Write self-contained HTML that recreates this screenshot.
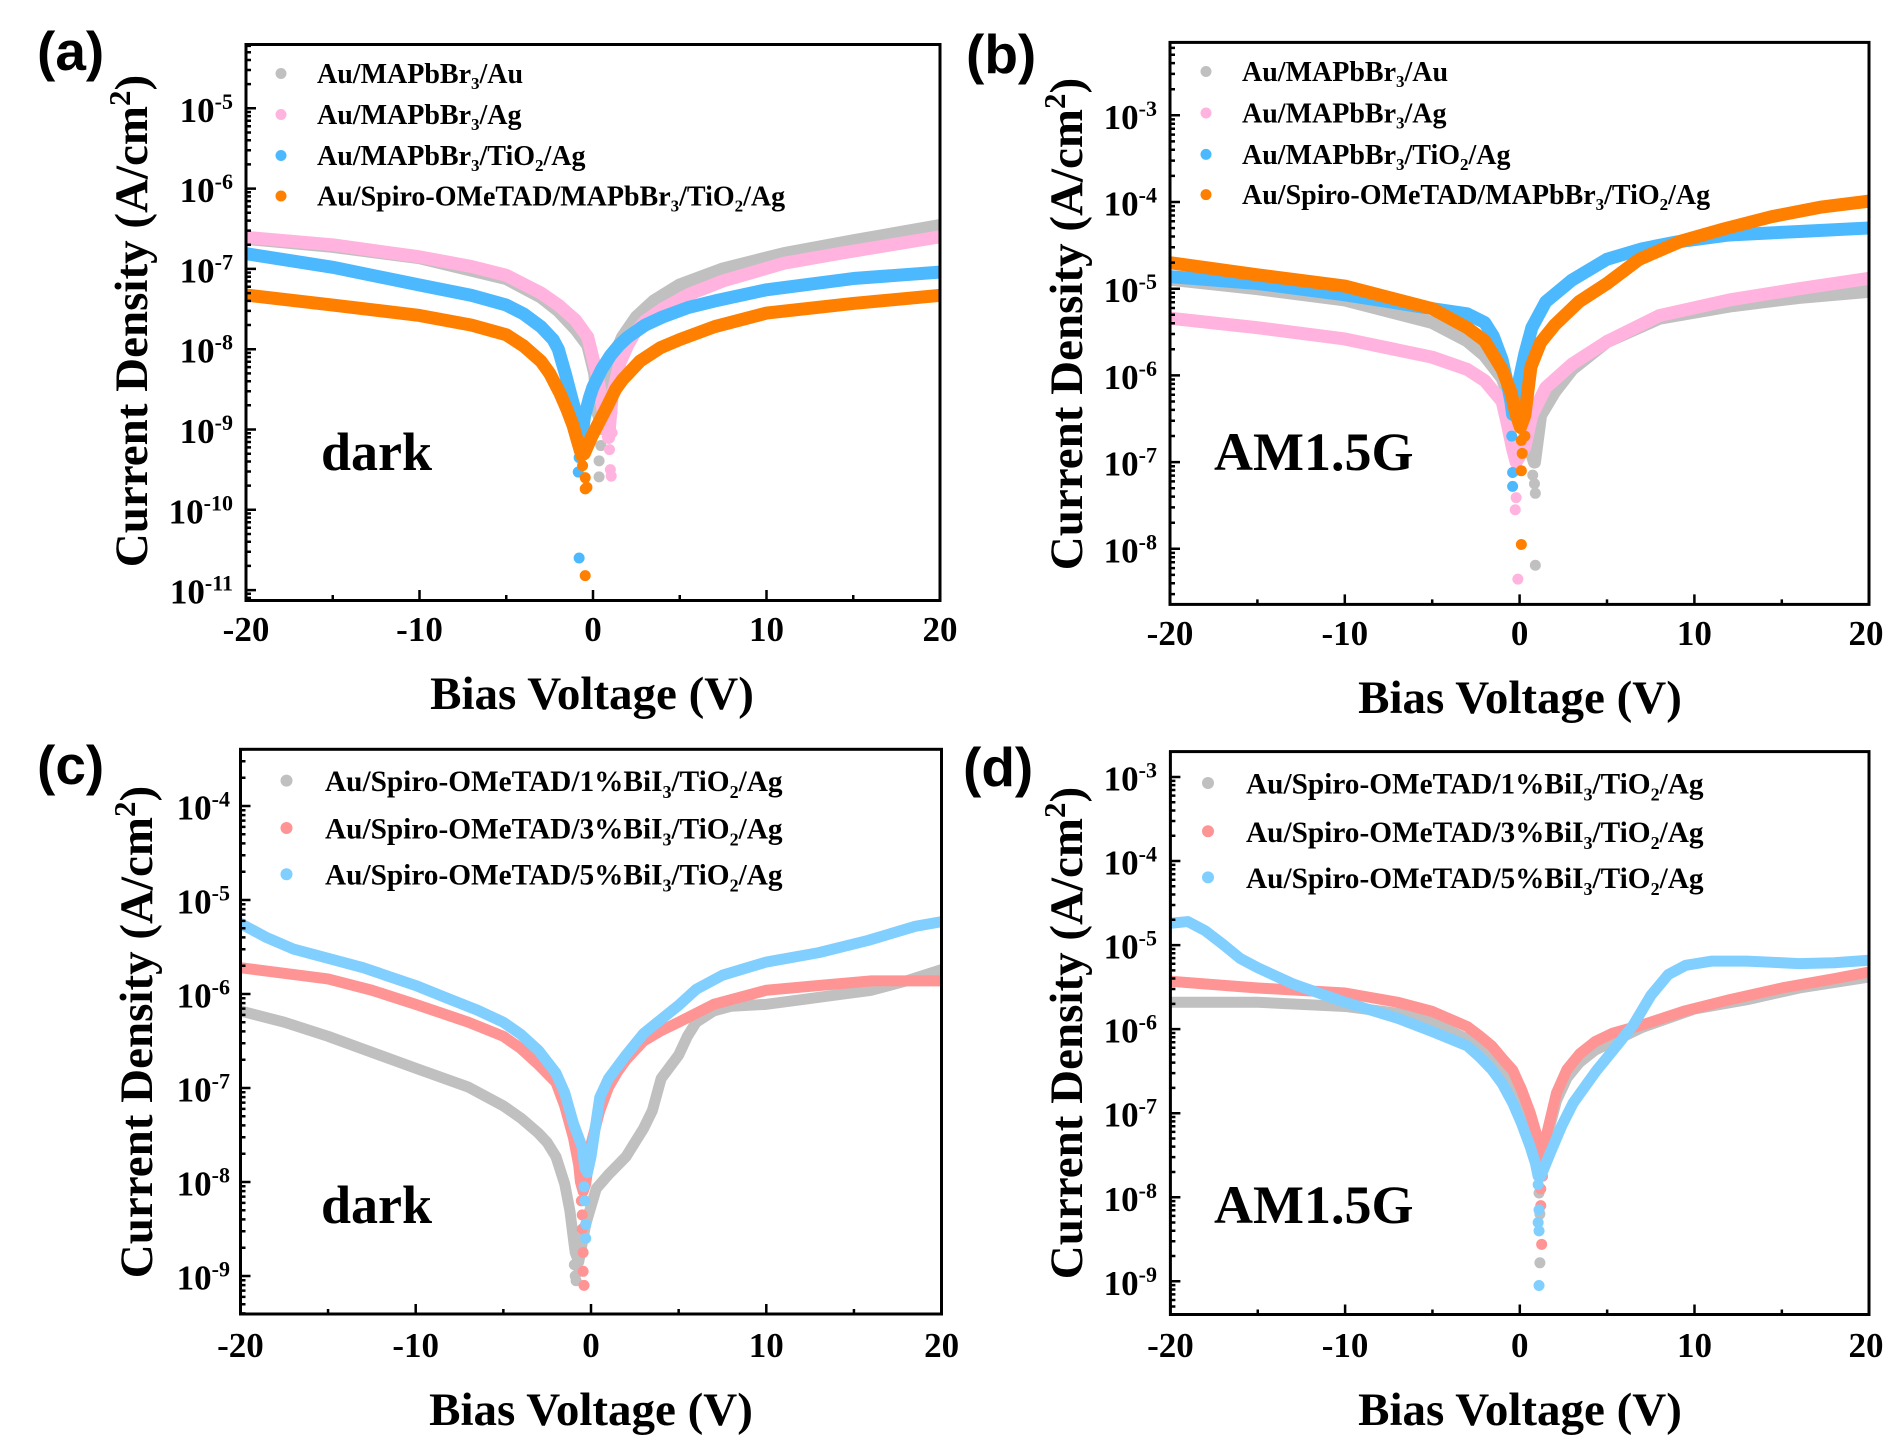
<!DOCTYPE html>
<html><head><meta charset="utf-8">
<style>
html,body{margin:0;padding:0;background:#fff;}
svg{display:block;}
.c{fill:none;stroke-linecap:round;stroke-linejoin:round;vector-effect:non-scaling-stroke;stroke-width:13;}
.d{fill:none;stroke-linecap:round;vector-effect:non-scaling-stroke;stroke-width:11;}
.c2{fill:none;stroke-linecap:round;stroke-linejoin:round;vector-effect:non-scaling-stroke;stroke-width:11;}
.d2{fill:none;stroke-linecap:round;vector-effect:non-scaling-stroke;stroke-width:11;}
.t{font-family:"Liberation Serif","Times New Roman",serif;font-weight:bold;fill:#000;}
.p{font-family:"Liberation Sans",Arial,sans-serif;font-weight:bold;fill:#000;}
.tk{fill:none;stroke:#000;stroke-width:2.5;}
.fr{fill:none;stroke:#000;stroke-width:3;}
</style></head>
<body>
<svg width="1890" height="1446" viewBox="0 0 1890 1446" xmlns="http://www.w3.org/2000/svg">
<defs>
<clipPath id="ca"><rect x="246" y="44.5" width="694" height="556"/></clipPath>
<clipPath id="cb"><rect x="1170" y="42.4" width="699" height="562"/></clipPath>
<clipPath id="cc"><rect x="240.5" y="749.3" width="701" height="564.7"/></clipPath>
<clipPath id="cd"><rect x="1170.4" y="751.6" width="698.6" height="562.9"/></clipPath>
</defs>
<rect width="1890" height="1446" fill="#fff"/>

<!-- ================= PANEL A ================= -->
<g clip-path="url(#ca)">
<g transform="matrix(17.35 0 0 -80.3 593 -293.2)">
<polyline class="c" stroke="#C0C0C0" points="-20,-6.62 -15,-6.72 -10,-6.86 -5,-7.12 -3,-7.35 -2,-7.52 -1,-7.75 -0.3,-7.95 0.1,-8.3 0.3,-8.8 0.45,-8.9 0.8,-8.45 1.2,-8.1 1.7,-7.85 2.5,-7.6 3.5,-7.4 5,-7.2 7.5,-7.0 11,-6.81 15,-6.65 20,-6.46"/>
<path class="d" stroke="#C0C0C0" d="M0.4 -9.0h0.001M0.35 -9.39h0.001M0.35 -9.59h0.001M0.45 -9.2h0.001"/>
<polyline class="c" stroke="#FFB3DE" points="-20,-6.607 -15,-6.7 -10,-6.85 -7,-6.97 -5,-7.08 -3,-7.3 -2,-7.45 -1,-7.64 -0.3,-7.85 0.3,-8.38 0.6,-8.79 0.9,-9.1 1.1,-8.59 1.55,-8.17 2,-7.95 2.4,-7.8 3,-7.65 4,-7.5 5.5,-7.32 7.5,-7.15 11,-6.93 14.4,-6.8 20,-6.6"/>
<path class="d" stroke="#FFB3DE" d="M1.1 -8.79h0.001M1.1 -9.04h0.001M1.0 -9.5h0.001M1.05 -9.58h0.001M0.95 -9.25h0.001"/>
<polyline class="c" stroke="#4CB9FF" points="-20,-6.81 -15,-6.98 -10,-7.2 -7,-7.33 -5,-7.45 -4,-7.56 -3,-7.72 -2.3,-7.88 -2,-8.0 -1.6,-8.3 -1.3,-8.55 -1.05,-8.75 -0.85,-9.0 -0.75,-9.25 -0.65,-9.1 -0.5,-8.85 -0.2,-8.6 0,-8.47 0.5,-8.25 1,-8.08 1.5,-7.95 2,-7.85 3,-7.7 4,-7.6 5.5,-7.48 7,-7.4 10,-7.26 15,-7.12 20,-7.04"/>
<path class="d" stroke="#4CB9FF" d="M-0.8 -9.35h0.001M-0.85 -9.53h0.001M-0.8 -10.6h0.001"/>
<polyline class="c" stroke="#FF7F00" points="-20,-7.325 -15,-7.45 -10,-7.58 -7,-7.7 -5,-7.82 -4,-7.96 -3,-8.15 -2.5,-8.3 -1.9,-8.55 -1.5,-8.75 -1.15,-8.95 -0.86,-9.17 -0.65,-9.32 -0.5,-9.3 -0.1,-9.1 0.2,-8.97 0.8,-8.72 1.3,-8.5 1.7,-8.38 2.7,-8.15 3.9,-7.98 5,-7.88 7,-7.72 10,-7.55 15,-7.43 20,-7.33"/>
<path class="d" stroke="#FF7F00" d="M-0.6 -9.45h0.001M-0.45 -9.6h0.001M-0.45 -9.74h0.001M-0.35 -9.72h0.001M-0.45 -10.82h0.001"/>
</g>
<path class="tk" d="M246 670.4h10m-10-24.2h5m-5-14.1h5m-5-10h5m-5-7.8h5m-5-6.3h5m-5-5.4h5m-5-4.7h5m-5-4.1h5m-5-3.7h10m-10-24.2h5m-5-14.1h5m-5-10h5m-5-7.8h5m-5-6.3h5m-5-5.4h5m-5-4.7h5m-5-4.1h5m-5-3.7h10m-10-24.2h5m-5-14.1h5m-5-10h5m-5-7.8h5m-5-6.3h5m-5-5.4h5m-5-4.7h5m-5-4.1h5m-5-3.7h10m-10-24.2h5m-5-14.1h5m-5-10h5m-5-7.8h5m-5-6.3h5m-5-5.4h5m-5-4.7h5m-5-4.1h5m-5-3.7h10m-10-24.2h5m-5-14.1h5m-5-10h5m-5-7.8h5m-5-6.3h5m-5-5.4h5m-5-4.7h5m-5-4.1h5m-5-3.7h10m-10-24.2h5m-5-14.1h5m-5-10h5m-5-7.8h5m-5-6.3h5m-5-5.4h5m-5-4.7h5m-5-4.1h5m-5-3.7h10m-10-24.2h5m-5-14.1h5m-5-10h5m-5-7.8h5m-5-6.3h5m-5-5.4h5m-5-4.7h5m-5-4.1h5m-5-3.7h10m-10-24.2h5m-5-14.1h5m-5-10h5m-5-7.8h5m-5-6.3h5m-5-5.4h5m-5-4.7h5m-5-4.1h5m-5-3.7h10"/>
<path class="tk" d="M246 600v-10M332.75 600v-5M419.5 600v-10M506.25 600v-5M593 600v-10M679.75 600v-5M766.5 600v-10M853.25 600v-5M940 600v-10"/>
</g>
<rect class="fr" x="246" y="44.5" width="694" height="556"/>

<g class="t" font-size="35" text-anchor="end">
<text x="233" y="121.8">10<tspan dy="-13" font-size="22">-5</tspan></text>
<text x="233" y="202.1">10<tspan dy="-13" font-size="22">-6</tspan></text>
<text x="233" y="282.4">10<tspan dy="-13" font-size="22">-7</tspan></text>
<text x="233" y="362.7">10<tspan dy="-13" font-size="22">-8</tspan></text>
<text x="233" y="443">10<tspan dy="-13" font-size="22">-9</tspan></text>
<text x="233" y="523.3">10<tspan dy="-13" font-size="22">-10</tspan></text>
<text x="233" y="603.6">10<tspan dy="-13" font-size="22">-11</tspan></text>
</g>
<g class="t" font-size="35" text-anchor="middle">
<text x="246" y="641">-20</text>
<text x="419.5" y="641">-10</text>
<text x="593" y="641">0</text>
<text x="766.5" y="641">10</text>
<text x="940" y="641">20</text>
</g>
<text class="t" font-size="47" text-anchor="middle" transform="translate(147,321) rotate(-90)">Current Density (A/cm<tspan dy="-17" font-size="31">2</tspan><tspan dy="17">)</tspan></text>
<text class="t" font-size="47" text-anchor="middle" x="592" y="709">Bias Voltage (V)</text>
<text class="p" font-size="55" x="37" y="70">(a)</text>
<text class="t" font-size="54" x="321" y="470">dark</text>
<circle cx="281" cy="73.5" r="5.5" fill="#C0C0C0"/>
<circle cx="281" cy="114.5" r="5.5" fill="#FFB3DE"/>
<circle cx="281" cy="155.5" r="5.5" fill="#4CB9FF"/>
<circle cx="281" cy="196" r="5.5" fill="#FF7F00"/>
<g class="t" font-size="28">
<text x="317" y="83">Au/MAPbBr<tspan font-size="17" dy="6">3</tspan><tspan dy="-6">/Au</tspan></text>
<text x="317" y="124">Au/MAPbBr<tspan font-size="17" dy="6">3</tspan><tspan dy="-6">/Ag</tspan></text>
<text x="317" y="165">Au/MAPbBr<tspan font-size="17" dy="6">3</tspan><tspan dy="-6">/TiO</tspan><tspan font-size="17" dy="6">2</tspan><tspan dy="-6">/Ag</tspan></text>
<text x="317" y="205.5">Au/Spiro-OMeTAD/MAPbBr<tspan font-size="17" dy="6">3</tspan><tspan dy="-6">/TiO</tspan><tspan font-size="17" dy="6">2</tspan><tspan dy="-6">/Ag</tspan></text>
</g>

<!-- ================= PANEL B ================= -->
<g clip-path="url(#cb)">
<g transform="matrix(17.48 0 0 -86.7 1519.6 -144.8)">
<polyline class="c" stroke="#C0C0C0" points="-20,-4.89 -15,-5.0 -10,-5.13 -5,-5.39 -3,-5.6 -2,-5.77 -1,-6.03 -0.5,-6.3 0.2,-6.6 0.6,-6.85 0.85,-7.0 1.2,-6.46 2,-6.19 3,-5.93 5,-5.61 8,-5.34 12,-5.2 16,-5.1 20,-5.03"/>
<path class="d" stroke="#C0C0C0" d="M0.75 -7.15h0.001M0.9 -7.36h0.001M0.85 -7.25h0.001M0.9 -8.19h0.001"/>
<polyline class="c" stroke="#FFB3DE" points="-20,-5.34 -15,-5.45 -10,-5.58 -5,-5.79 -3,-5.93 -2,-6.06 -1,-6.3 -0.7,-6.56 -0.4,-6.85 -0.2,-7.0 0.3,-6.83 0.7,-6.46 1.5,-6.14 3,-5.87 5,-5.61 8,-5.31 12,-5.13 16,-5.0 20,-4.88"/>
<path class="d" stroke="#FFB3DE" d="M-0.25 -7.1h0.001M-0.2 -7.41h0.001M-0.25 -7.55h0.001M-0.1 -8.35h0.001"/>
<polyline class="c" stroke="#4CB9FF" points="-20,-4.86 -15,-4.94 -10,-5.07 -5,-5.23 -3,-5.29 -2,-5.39 -1.5,-5.55 -1,-5.82 -0.7,-6.09 -0.5,-6.3 -0.4,-6.45 -0.3,-6.4 0,-6.03 0.3,-5.75 0.7,-5.45 1.5,-5.15 3,-4.9 5,-4.66 7,-4.54 9,-4.46 12,-4.38 16,-4.34 20,-4.3"/>
<path class="d" stroke="#4CB9FF" d="M-0.45 -6.7h0.001M-0.4 -7.12h0.001M-0.4 -7.28h0.001"/>
<polyline class="c" stroke="#FF7F00" points="-20,-4.7 -15,-4.84 -10,-4.97 -5,-5.23 -3,-5.45 -2,-5.6 -1,-5.93 -0.5,-6.19 -0.2,-6.45 0.05,-6.6 0.3,-6.46 0.65,-5.9 1.2,-5.62 2,-5.42 3.4,-5.15 5,-4.94 6.85,-4.66 9.26,-4.45 11.7,-4.31 14.4,-4.17 17.2,-4.06 20,-3.99"/>
<path class="d" stroke="#FF7F00" d="M0.1 -6.75h0.001M0.15 -6.9h0.001M0.1 -7.1h0.001M0.1 -7.95h0.001M0.3 -6.7h0.001"/>
</g>
<path class="tk" d="M1170 635.5h10m-10-26.1h5m-5-15.3h5m-5-10.8h5m-5-8.4h5m-5-6.8h5m-5-5.8h5m-5-5h5m-5-4.4h5m-5-4.1h10m-10-26.1h5m-5-15.3h5m-5-10.8h5m-5-8.4h5m-5-6.8h5m-5-5.8h5m-5-5h5m-5-4.4h5m-5-4.1h10m-10-26.1h5m-5-15.3h5m-5-10.8h5m-5-8.4h5m-5-6.8h5m-5-5.8h5m-5-5h5m-5-4.4h5m-5-4.1h10m-10-26.1h5m-5-15.3h5m-5-10.8h5m-5-8.4h5m-5-6.8h5m-5-5.8h5m-5-5h5m-5-4.4h5m-5-4.1h10m-10-26.1h5m-5-15.3h5m-5-10.8h5m-5-8.4h5m-5-6.8h5m-5-5.8h5m-5-5h5m-5-4.4h5m-5-4.1h10m-10-26.1h5m-5-15.3h5m-5-10.8h5m-5-8.4h5m-5-6.8h5m-5-5.8h5m-5-5h5m-5-4.4h5m-5-4.1h10m-10-26.1h5m-5-15.3h5m-5-10.8h5m-5-8.4h5m-5-6.8h5m-5-5.8h5m-5-5h5m-5-4.4h5m-5-4.1h10"/>
<path class="tk" d="M1170 604.4v-10M1257.4 604.4v-5M1344.8 604.4v-10M1432.2 604.4v-5M1519.6 604.4v-10M1607 604.4v-5M1694.4 604.4v-10M1781.8 604.4v-5M1869.2 604.4v-10"/>
</g>
<rect class="fr" x="1170" y="42.4" width="699" height="562"/>

<g class="t" font-size="35" text-anchor="end">
<text x="1157" y="128.8">10<tspan dy="-13" font-size="22">-3</tspan></text>
<text x="1157" y="215.5">10<tspan dy="-13" font-size="22">-4</tspan></text>
<text x="1157" y="302.2">10<tspan dy="-13" font-size="22">-5</tspan></text>
<text x="1157" y="388.9">10<tspan dy="-13" font-size="22">-6</tspan></text>
<text x="1157" y="475.6">10<tspan dy="-13" font-size="22">-7</tspan></text>
<text x="1157" y="562.3">10<tspan dy="-13" font-size="22">-8</tspan></text>
</g>
<g class="t" font-size="35" text-anchor="middle">
<text x="1170" y="645">-20</text>
<text x="1344.8" y="645">-10</text>
<text x="1519.6" y="645">0</text>
<text x="1694.4" y="645">10</text>
<text x="1866" y="645">20</text>
</g>
<text class="t" font-size="47" text-anchor="middle" transform="translate(1082,324) rotate(-90)">Current Density (A/cm<tspan dy="-17" font-size="31">2</tspan><tspan dy="17">)</tspan></text>
<text class="t" font-size="47" text-anchor="middle" x="1520" y="713">Bias Voltage (V)</text>
<text class="p" font-size="55" x="966" y="73">(b)</text>
<text class="t" font-size="54" x="1214" y="470">AM1.5G</text>
<circle cx="1206" cy="71.5" r="5.5" fill="#C0C0C0"/>
<circle cx="1206" cy="113" r="5.5" fill="#FFB3DE"/>
<circle cx="1206" cy="154.4" r="5.5" fill="#4CB9FF"/>
<circle cx="1206" cy="194.6" r="5.5" fill="#FF7F00"/>
<g class="t" font-size="28">
<text x="1242" y="81">Au/MAPbBr<tspan font-size="17" dy="6">3</tspan><tspan dy="-6">/Au</tspan></text>
<text x="1242" y="122.5">Au/MAPbBr<tspan font-size="17" dy="6">3</tspan><tspan dy="-6">/Ag</tspan></text>
<text x="1242" y="164">Au/MAPbBr<tspan font-size="17" dy="6">3</tspan><tspan dy="-6">/TiO</tspan><tspan font-size="17" dy="6">2</tspan><tspan dy="-6">/Ag</tspan></text>
<text x="1242" y="204">Au/Spiro-OMeTAD/MAPbBr<tspan font-size="17" dy="6">3</tspan><tspan dy="-6">/TiO</tspan><tspan font-size="17" dy="6">2</tspan><tspan dy="-6">/Ag</tspan></text>
</g>

<!-- ================= PANEL C ================= -->
<g clip-path="url(#cc)">
<g transform="matrix(17.53 0 0 -94 591 430)">
<polyline class="c2" stroke="#C0C0C0" points="-20,-6.18 -17.5,-6.3 -15,-6.45 -12.5,-6.62 -10,-6.79 -7,-6.99 -5,-7.19 -4,-7.32 -3,-7.48 -2.5,-7.58 -2,-7.73 -1.5,-8.02 -1.2,-8.31 -1,-8.61 -0.9,-8.75 -0.7,-8.85 -0.6,-8.75 -0.3,-8.45 0,-8.26 0.3,-8.07 1,-7.92 2,-7.73 3,-7.43 3.5,-7.24 4,-6.9 5,-6.65 5.5,-6.45 6,-6.3 7,-6.18 8,-6.13 10,-6.11 12,-6.06 14,-6.01 16,-5.96 18,-5.86 20,-5.74"/>
<path class="d2" stroke="#C0C0C0" d="M-0.95 -8.88h0.001M-0.9 -9.0h0.001M-0.85 -9.05h0.001M-0.7 -8.95h0.001"/>
<polyline class="c2" stroke="#FF9494" points="-20,-5.72 -15,-5.84 -12.5,-5.96 -10,-6.11 -7,-6.3 -5,-6.45 -4,-6.58 -3,-6.75 -2,-6.94 -1.5,-7.19 -1,-7.53 -0.7,-7.82 -0.6,-8.0 -0.45,-8.1 -0.3,-8.02 0,-7.6 0.5,-7.24 1,-6.99 1.5,-6.83 2,-6.7 3,-6.5 4,-6.39 5,-6.3 7,-6.11 10,-5.96 13,-5.91 16,-5.86 20,-5.86"/>
<path class="d2" stroke="#FF9494" d="M-0.55 -8.2h0.001M-0.5 -8.35h0.001M-0.5 -8.5h0.001M-0.45 -8.75h0.001M-0.45 -8.95h0.001M-0.4 -9.1h0.001"/>
<polyline class="c2" stroke="#80CFFF" points="-20,-5.25 -18.5,-5.4 -17,-5.52 -15,-5.62 -13,-5.72 -10,-5.91 -8,-6.06 -6.5,-6.17 -5,-6.3 -4,-6.43 -3,-6.6 -2,-6.84 -1.5,-7.05 -1,-7.38 -0.5,-7.63 -0.35,-7.85 -0.2,-7.9 0,-7.73 0.5,-7.1 1,-6.9 2,-6.65 3,-6.42 3.8,-6.3 5,-6.12 6,-5.95 7.5,-5.8 10,-5.66 13,-5.56 15.8,-5.43 18.5,-5.28 20,-5.23"/>
<path class="d2" stroke="#80CFFF" d="M-0.4 -8.05h0.001M-0.35 -8.2h0.001M-0.3 -8.45h0.001M-0.3 -8.6h0.001"/>
</g>
<path class="tk" d="M240.5 1370h10m-10-28.3h5m-5-16.5h5m-5-11.8h5m-5-9.1h5m-5-7.4h5m-5-6.3h5m-5-5.5h5m-5-4.8h5m-5-4.3h10m-10-28.3h5m-5-16.5h5m-5-11.8h5m-5-9.1h5m-5-7.4h5m-5-6.3h5m-5-5.5h5m-5-4.8h5m-5-4.3h10m-10-28.3h5m-5-16.5h5m-5-11.8h5m-5-9.1h5m-5-7.4h5m-5-6.3h5m-5-5.5h5m-5-4.8h5m-5-4.3h10m-10-28.3h5m-5-16.5h5m-5-11.8h5m-5-9.1h5m-5-7.4h5m-5-6.3h5m-5-5.5h5m-5-4.8h5m-5-4.3h10m-10-28.3h5m-5-16.5h5m-5-11.8h5m-5-9.1h5m-5-7.4h5m-5-6.3h5m-5-5.5h5m-5-4.8h5m-5-4.3h10m-10-28.3h5m-5-16.5h5m-5-11.8h5m-5-9.1h5m-5-7.4h5m-5-6.3h5m-5-5.5h5m-5-4.8h5m-5-4.3h10m-10-28.3h5m-5-16.5h5m-5-11.8h5m-5-9.1h5m-5-7.4h5m-5-6.3h5m-5-5.5h5m-5-4.8h5m-5-4.3h10"/>
<path class="tk" d="M240.4 1314v-10M328.05 1314v-5M415.7 1314v-10M503.35 1314v-5M591 1314v-10M678.65 1314v-5M766.3 1314v-10M853.95 1314v-5M941.6 1314v-10"/>
</g>
<rect class="fr" x="240.5" y="749.3" width="701" height="564.7"/>

<g class="t" font-size="35" text-anchor="end">
<text x="230" y="819.5">10<tspan dy="-13" font-size="22">-4</tspan></text>
<text x="230" y="913.5">10<tspan dy="-13" font-size="22">-5</tspan></text>
<text x="230" y="1007.5">10<tspan dy="-13" font-size="22">-6</tspan></text>
<text x="230" y="1101.5">10<tspan dy="-13" font-size="22">-7</tspan></text>
<text x="230" y="1195.5">10<tspan dy="-13" font-size="22">-8</tspan></text>
<text x="230" y="1289.5">10<tspan dy="-13" font-size="22">-9</tspan></text>
</g>
<g class="t" font-size="35" text-anchor="middle">
<text x="240.4" y="1357">-20</text>
<text x="415.7" y="1357">-10</text>
<text x="591" y="1357">0</text>
<text x="766.3" y="1357">10</text>
<text x="941.6" y="1357">20</text>
</g>
<text class="t" font-size="47" text-anchor="middle" transform="translate(152,1032) rotate(-90)">Current Density (A/cm<tspan dy="-17" font-size="31">2</tspan><tspan dy="17">)</tspan></text>
<text class="t" font-size="47" text-anchor="middle" x="591" y="1425">Bias Voltage (V)</text>
<text class="p" font-size="55" x="37" y="784">(c)</text>
<text class="t" font-size="54" x="321" y="1223">dark</text>
<circle cx="286.5" cy="780.6" r="6" fill="#C0C0C0"/>
<circle cx="286.5" cy="828" r="6" fill="#FF9494"/>
<circle cx="286.5" cy="874.2" r="6" fill="#80CFFF"/>
<g class="t" font-size="29.3">
<text x="325" y="791">Au/Spiro-OMeTAD/1%BiI<tspan font-size="18" dy="7">3</tspan><tspan dy="-7">/TiO</tspan><tspan font-size="18" dy="7">2</tspan><tspan dy="-7">/Ag</tspan></text>
<text x="325" y="838.5">Au/Spiro-OMeTAD/3%BiI<tspan font-size="18" dy="7">3</tspan><tspan dy="-7">/TiO</tspan><tspan font-size="18" dy="7">2</tspan><tspan dy="-7">/Ag</tspan></text>
<text x="325" y="884.7">Au/Spiro-OMeTAD/5%BiI<tspan font-size="18" dy="7">3</tspan><tspan dy="-7">/TiO</tspan><tspan font-size="18" dy="7">2</tspan><tspan dy="-7">/Ag</tspan></text>
</g>

<!-- ================= PANEL D ================= -->
<g clip-path="url(#cd)">
<g transform="matrix(17.47 0 0 -84.05 1519.8 524.85)">
<polyline class="c2" stroke="#C0C0C0" points="-20,-5.68 -15,-5.68 -10,-5.73 -7,-5.81 -5,-5.92 -3,-6.12 -2,-6.25 -1,-6.45 0,-6.8 0.6,-7.1 0.95,-7.4 1.1,-7.6 1.3,-7.5 1.6,-7.25 2.1,-6.85 2.7,-6.58 3.4,-6.4 4.3,-6.25 5.3,-6.15 7,-5.98 10,-5.76 13,-5.65 16,-5.51 20,-5.38"/>
<path class="d2" stroke="#C0C0C0" d="M1.1 -7.75h0.001M1.1 -7.95h0.001M1.15 -8.2h0.001M1.15 -8.78h0.001"/>
<polyline class="c2" stroke="#FF9494" points="-20,-5.43 -15,-5.51 -10,-5.57 -7,-5.68 -5,-5.79 -3,-5.97 -2.3,-6.08 -1.6,-6.2 -1,-6.35 -0.4,-6.49 0.1,-6.72 0.6,-7.0 1.05,-7.32 1.2,-7.5 1.4,-7.5 1.55,-7.24 2.1,-6.76 2.7,-6.48 3.45,-6.29 4.3,-6.15 5.3,-6.05 7,-5.95 9.5,-5.78 12,-5.65 15,-5.51 18,-5.4 20,-5.32"/>
<path class="d2" stroke="#FF9494" d="M1.15 -7.6h0.001M1.2 -7.9h0.001M1.2 -8.1h0.001M1.25 -8.56h0.001M1.3 -7.75h0.001"/>
<polyline class="c2" stroke="#80CFFF" points="-20,-4.74 -19,-4.72 -18,-4.83 -17,-4.99 -16,-5.16 -15,-5.27 -13,-5.46 -10,-5.68 -7,-5.87 -5,-6.03 -3,-6.2 -2.3,-6.33 -1.6,-6.48 -1,-6.65 -0.4,-6.88 0.1,-7.12 0.6,-7.4 0.9,-7.6 1.05,-7.75 1.2,-7.75 1.75,-7.47 2.4,-7.15 3.05,-6.88 4.4,-6.49 5.5,-6.21 6.5,-5.95 7.5,-5.6 8.5,-5.35 9.5,-5.24 11,-5.19 13,-5.19 16,-5.22 18,-5.21 20,-5.18"/>
<path class="d2" stroke="#80CFFF" d="M1.05 -7.85h0.001M1.1 -8.15h0.001M1.05 -8.3h0.001M1.1 -8.4h0.001M1.1 -9.05h0.001"/>
</g>
<path class="tk" d="M1170.4 1365.35h10m-10-25.3h5m-5-14.8h5m-5-10.5h5m-5-8.2h5m-5-6.6h5m-5-5.6h5m-5-4.9h5m-5-4.3h5m-5-3.85h10m-10-25.3h5m-5-14.8h5m-5-10.5h5m-5-8.2h5m-5-6.6h5m-5-5.6h5m-5-4.9h5m-5-4.3h5m-5-3.85h10m-10-25.3h5m-5-14.8h5m-5-10.5h5m-5-8.2h5m-5-6.6h5m-5-5.6h5m-5-4.9h5m-5-4.3h5m-5-3.85h10m-10-25.3h5m-5-14.8h5m-5-10.5h5m-5-8.2h5m-5-6.6h5m-5-5.6h5m-5-4.9h5m-5-4.3h5m-5-3.85h10m-10-25.3h5m-5-14.8h5m-5-10.5h5m-5-8.2h5m-5-6.6h5m-5-5.6h5m-5-4.9h5m-5-4.3h5m-5-3.85h10m-10-25.3h5m-5-14.8h5m-5-10.5h5m-5-8.2h5m-5-6.6h5m-5-5.6h5m-5-4.9h5m-5-4.3h5m-5-3.85h10m-10-25.3h5m-5-14.8h5m-5-10.5h5m-5-8.2h5m-5-6.6h5m-5-5.6h5m-5-4.9h5m-5-4.3h5m-5-3.85h10m-10-25.3h5m-5-14.8h5m-5-10.5h5m-5-8.2h5m-5-6.6h5m-5-5.6h5m-5-4.9h5m-5-4.3h5m-5-3.85h10"/>
<path class="tk" d="M1170.4 1314.5v-10M1257.75 1314.5v-5M1345.1 1314.5v-10M1432.45 1314.5v-5M1519.8 1314.5v-10M1607.15 1314.5v-5M1694.5 1314.5v-10M1781.85 1314.5v-5M1869.2 1314.5v-10"/>
</g>
<rect class="fr" x="1170.4" y="751.6" width="698.6" height="562.9"/>

<g class="t" font-size="35" text-anchor="end">
<text x="1157" y="790.5">10<tspan dy="-13" font-size="22">-3</tspan></text>
<text x="1157" y="874.5">10<tspan dy="-13" font-size="22">-4</tspan></text>
<text x="1157" y="958.6">10<tspan dy="-13" font-size="22">-5</tspan></text>
<text x="1157" y="1042.7">10<tspan dy="-13" font-size="22">-6</tspan></text>
<text x="1157" y="1126.7">10<tspan dy="-13" font-size="22">-7</tspan></text>
<text x="1157" y="1210.8">10<tspan dy="-13" font-size="22">-8</tspan></text>
<text x="1157" y="1294.8">10<tspan dy="-13" font-size="22">-9</tspan></text>
</g>
<g class="t" font-size="35" text-anchor="middle">
<text x="1170.4" y="1357">-20</text>
<text x="1345.1" y="1357">-10</text>
<text x="1519.8" y="1357">0</text>
<text x="1694.5" y="1357">10</text>
<text x="1866" y="1357">20</text>
</g>
<text class="t" font-size="47" text-anchor="middle" transform="translate(1082,1033) rotate(-90)">Current Density (A/cm<tspan dy="-17" font-size="31">2</tspan><tspan dy="17">)</tspan></text>
<text class="t" font-size="47" text-anchor="middle" x="1520" y="1425">Bias Voltage (V)</text>
<text class="p" font-size="55" x="963" y="786">(d)</text>
<text class="t" font-size="54" x="1214" y="1223">AM1.5G</text>
<circle cx="1208" cy="783" r="6" fill="#C0C0C0"/>
<circle cx="1208" cy="831.3" r="6" fill="#FF9494"/>
<circle cx="1208" cy="877.4" r="6" fill="#80CFFF"/>
<g class="t" font-size="29.3">
<text x="1246" y="793.5">Au/Spiro-OMeTAD/1%BiI<tspan font-size="18" dy="7">3</tspan><tspan dy="-7">/TiO</tspan><tspan font-size="18" dy="7">2</tspan><tspan dy="-7">/Ag</tspan></text>
<text x="1246" y="841.8">Au/Spiro-OMeTAD/3%BiI<tspan font-size="18" dy="7">3</tspan><tspan dy="-7">/TiO</tspan><tspan font-size="18" dy="7">2</tspan><tspan dy="-7">/Ag</tspan></text>
<text x="1246" y="888">Au/Spiro-OMeTAD/5%BiI<tspan font-size="18" dy="7">3</tspan><tspan dy="-7">/TiO</tspan><tspan font-size="18" dy="7">2</tspan><tspan dy="-7">/Ag</tspan></text>
</g>
</svg>
</body></html>
